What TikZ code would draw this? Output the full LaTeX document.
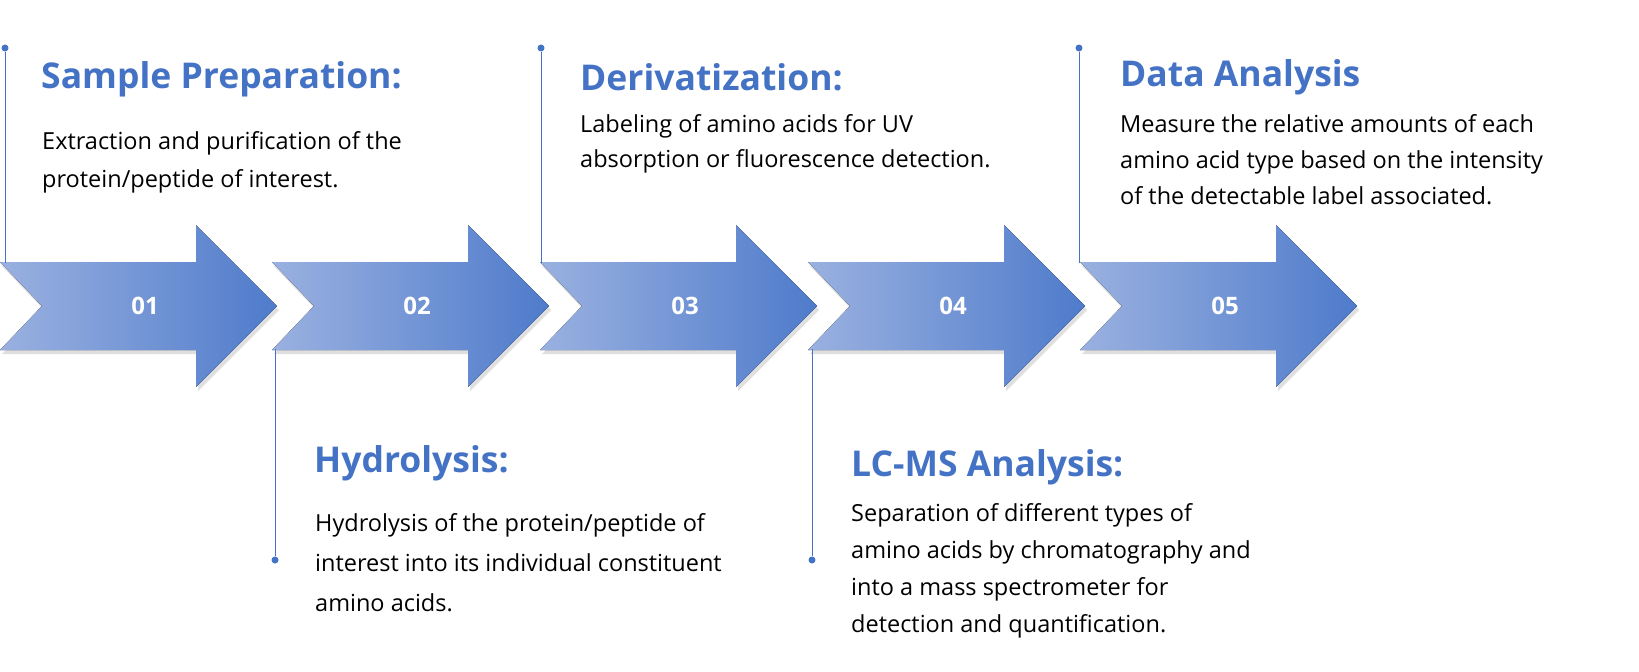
\documentclass[tikz,border=0pt]{standalone}
\usepackage{fontspec}
\setmainfont{Open Sans}
\usetikzlibrary{shadows}
\definecolor{tblue}{HTML}{4472C4}
\definecolor{lblue}{HTML}{9AB1E0}
\definecolor{dblue}{HTML}{4F7BCB}
\begin{document}
\begin{tikzpicture}[x=1pt,y=-1pt,
  ttl/.style={anchor=west,inner sep=0,text=tblue,font=\fontsize{35.5}{40}\selectfont\bfseries},
  bdy/.style={anchor=north west,inner sep=0,align=left,font=\fontsize{23.5}{#1}\selectfont},
  num/.style={text=white,font=\fontsize{24}{28}\selectfont\bfseries},
  vline/.style={draw=tblue,line width=1pt},
  dotc/.style={circle,fill=tblue,inner sep=0,minimum size=7pt}]
\useasboundingbox (0,0) rectangle (1639,672);
\foreach \i/\x in {1/0,2/272,3/540,4/808,5/1080}{
  \fill[left color=lblue,right color=dblue,drop shadow={opacity=0.25,shadow xshift=2pt,shadow yshift=-4pt}]
   (\x,262) -- (\x+196,262) -- (\x+196,225) -- (\x+277,306) -- (\x+196,387) -- (\x+196,350) -- (\x,350) -- (\x+42,306) -- cycle;
  \node[num] (n\i) at (\x+145,306) {0\i};
}
\foreach \i/\x in {1/5,3/541,5/1079}{
  \node[dotc] (d\i) at (\x,48) {};
  \coordinate (c\i) at (\x,263);
  \draw[vline] (d\i) -- (c\i);
}
\foreach \i/\x in {2/275,4/812}{
  \node[dotc] (d\i) at (\x,560) {};
  \coordinate (c\i) at (\x,349);
  \draw[vline] (d\i) -- (c\i);
}
\node[ttl] (t1) at (41,79) {Sample Preparation:};
\node[bdy=38] (b1) at (42,131) {Extraction and purification of the\\protein/peptide of interest.};
\node[ttl] (t3) at (580,77) {Derivatization:};
\node[bdy=35] (b3) at (580,114) {Labeling of amino acids for UV\\absorption or fluorescence detection.};
\node[ttl] (t5) at (1120,77) {Data Analysis};
\node[bdy=36] (b5) at (1120,114) {Measure the relative amounts of each\\amino acid type based on the intensity\\of the detectable label associated.};
\node[ttl] (t2) at (314,463) {Hydrolysis:};
\node[bdy=40] (b2) at (315,513) {Hydrolysis of the protein/peptide of\\interest into its individual constituent\\amino acids.};
\node[ttl] (t4) at (851,467) {LC-MS Analysis:};
\node[bdy=37] (b4) at (851,503) {Separation of different types of\\amino acids by chromatography and\\into a mass spectrometer for\\detection and quantification.};
\end{tikzpicture}
\end{document}
